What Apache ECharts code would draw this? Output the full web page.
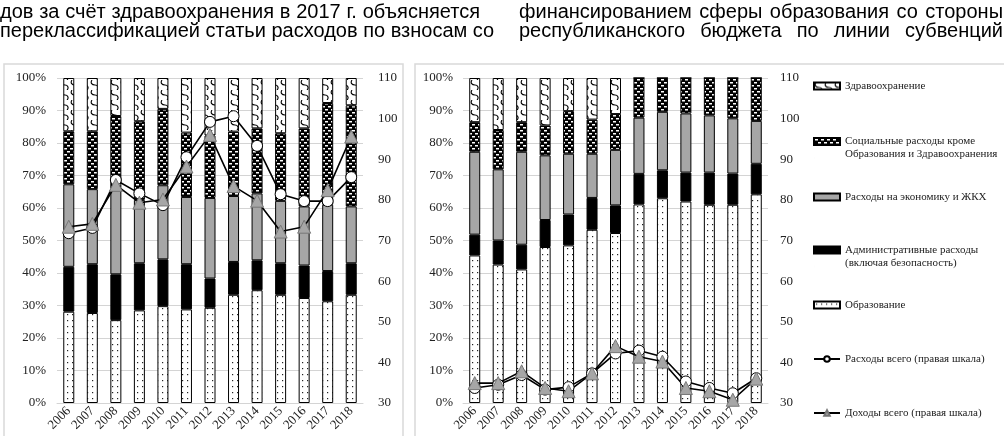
<!DOCTYPE html>
<html><head><meta charset="utf-8">
<script src="https://cdn.jsdelivr.net/npm/echarts@6/dist/echarts.min.js"></script>
<style>
html,body{margin:0;padding:0;background:#fff;width:1004px;height:436px;overflow:hidden;}
#c{position:absolute;left:0;top:0;width:1004px;height:436px;}
.t{position:absolute;font-family:"Liberation Sans",Arial,sans-serif;font-size:20px;line-height:19px;color:#000;text-align:justify;text-align-last:justify;white-space:nowrap;z-index:2;}
</style></head>
<body>
<div id="c"></div>
<div class="t" style="left:0;top:2px;width:480px;">дов за счёт здравоохранения в 2017 г. объясняется</div>
<div class="t" style="left:0;top:21px;width:478px;">переклассификацией статьи расходов по взносам со</div>
<div class="t" style="left:519px;top:2px;width:484px;">финансированием сферы образования со стороны</div>
<div class="t" style="left:519px;top:21px;width:484px;">республиканского бюджета по линии субвенций</div>
<script>
const years = ['2006','2007','2008','2009','2010','2011','2012','2013','2014','2015','2016','2017','2018'];

// Left panel (shares, %)
const leftEdu    = [28.1, 27.7, 25.5, 28.5, 29.8, 28.8, 29.3, 33.3, 34.7, 33.3, 32.3, 31.3, 33.3];
const leftAdm    = [13.8, 15.0, 14.1, 14.5, 14.4, 13.9, 9.0, 10.1, 9.2, 9.7, 10.0, 9.3, 9.7];
const leftEcon   = [25.4, 23.1, 26.4, 19.5, 22.8, 20.7, 24.8, 20.3, 20.6, 19.2, 18.2, 20.4, 17.5];
const leftSoc    = [16.3, 17.8, 22.3, 24.2, 23.5, 19.8, 19.2, 19.8, 20.0, 20.8, 24.0, 31.3, 31.1];
const leftHealth = [16.4, 16.4, 11.7, 13.3, 9.5, 16.8, 17.7, 16.5, 15.5, 17.0, 15.5, 7.7, 8.4];
const leftExp    = [71.8, 73.1, 84.9, 81.6, 78.7, 90.5, 99.2, 100.6, 93.3, 81.4, 79.7, 79.7, 85.6];
const leftRev    = [73.4, 74.1, 83.7, 79.3, 80.1, 88.2, 96.0, 83.4, 79.8, 72.2, 73.4, 82.4, 95.6];

// Right panel (shares, %)
const rightEdu    = [45.4, 42.6, 41.1, 48.0, 48.5, 53.3, 52.3, 61.1, 63.0, 62.0, 61.0, 61.0, 64.2];
const rightAdm    = [6.4, 7.4, 7.6, 8.3, 9.5, 9.8, 8.5, 9.4, 8.6, 8.9, 9.9, 9.6, 9.4];
const rightEcon   = [25.5, 21.9, 28.6, 19.9, 18.7, 13.6, 17.1, 17.3, 18.0, 18.2, 17.6, 17.0, 13.2];
const rightSoc    = [9.1, 12.1, 9.1, 9.2, 13.1, 10.5, 11.0, 12.2, 10.4, 10.9, 11.5, 12.4, 13.2];
const rightHealth = [13.6, 16.0, 13.6, 14.6, 10.2, 12.8, 11.1, 0, 0, 0, 0, 0, 0];
const rightExp    = [33.7, 34.5, 36.9, 33.3, 33.9, 37.3, 42.2, 42.9, 41.4, 35.3, 33.7, 32.4, 36.1];
const rightRev    = [34.9, 34.9, 37.8, 33.7, 32.9, 37.3, 44.0, 41.4, 40.2, 33.7, 32.9, 30.8, 36.0];

const N_HEALTH = 'Здравоохранение';
const N_SOC = 'Социальные расходы кроме Образования и Здравоохранения';
const N_ECON = 'Расходы на экономику и ЖКХ';
const N_ADM = 'Административные расходы (включая безопасность)';
const N_EDU = 'Образование';
const N_EXP = 'Расходы всего (правая шкала)';
const N_REV = 'Доходы всего (правая шкала)';
const legendText = {};
legendText[N_HEALTH] = 'Здравоохранение';
legendText[N_SOC] = 'Социальные расходы кроме\nОбразования и Здравоохранения';
legendText[N_ECON] = 'Расходы на экономику и ЖКХ';
legendText[N_ADM] = 'Административные расходы\n(включая безопасность)';
legendText[N_EDU] = 'Образование';
legendText[N_EXP] = 'Расходы всего (правая шкала)';
legendText[N_REV] = 'Доходы всего (правая шкала)';

function pat(w, h, draw) {
  const c = document.createElement('canvas');
  c.width = w; c.height = h;
  draw(c.getContext('2d'));
  return { image: c, repeat: 'repeat' };
}
const healthPat = pat(10, 10, g => {
  g.fillStyle = '#fff'; g.fillRect(0, 0, 10, 10);
  g.strokeStyle = '#000'; g.lineWidth = 1.1;
  g.beginPath(); g.moveTo(2, 0); g.bezierCurveTo(0, 3, 2, 5, 5, 5); g.bezierCurveTo(8, 5, 9, 8, 7, 10); g.stroke();
});
const socPat = pat(6, 6, g => {
  g.fillStyle = '#000'; g.fillRect(0, 0, 6, 6);
  g.fillStyle = '#fff';
  g.fillRect(1, 1, 3, 1.5); g.fillRect(4, 4, 2, 1.5); g.fillRect(0, 4, 1, 1.5);
});
const eduPat = pat(5, 6, g => {
  g.fillStyle = '#fff'; g.fillRect(0, 0, 5, 6);
  g.fillStyle = '#222'; g.fillRect(2, 2, 1.2, 1.2);
});

const serif = '"Liberation Serif","Times New Roman",serif';
const gridColor = '#d4d4d4';

function xAx(gi) {
  return {
    type: 'category', gridIndex: gi, data: years,
    axisLine: { show: true, lineStyle: { color: gridColor } },
    axisTick: { show: false },
    axisLabel: { interval: 0, rotate: 45, fontFamily: serif, fontSize: 13, color: '#222', margin: 6 }
  };
}
function yPct(gi) {
  return {
    type: 'value', gridIndex: gi, min: 0, max: 100, interval: 10, position: 'left',
    axisLine: { show: false }, axisTick: { show: false },
    splitLine: { show: true, lineStyle: { color: gridColor, width: 1 } },
    axisLabel: { formatter: '{value}%', fontFamily: serif, fontSize: 13, color: '#222', margin: gi === 0 ? 11 : 10 }
  };
}
function yAbs(gi) {
  return {
    type: 'value', gridIndex: gi, min: 30, max: 110, interval: 10, position: 'right',
    axisLine: { show: false }, axisTick: { show: false }, splitLine: { show: false },
    axisLabel: { fontFamily: serif, fontSize: 13, color: '#222', margin: gi === 0 ? 15 : 12 }
  };
}

function barSeries(name, data, color, xi, yi, stack) {
  return {
    name, type: 'bar', data, stack, xAxisIndex: xi, yAxisIndex: yi,
    barWidth: 11,
    itemStyle: { color, borderColor: '#000', borderWidth: 1 },
    emphasis: { disabled: true }, animation: false
  };
}
function lineSeries(name, data, xi, yi, kind) {
  const isC = kind === 'circle';
  return {
    name, type: 'line', data, xAxisIndex: xi, yAxisIndex: yi, z: 5,
    symbol: isC ? 'circle' : 'triangle', symbolSize: isC ? 11 : 13,
    showAllSymbol: true,
    lineStyle: { color: '#000', width: 1.6 },
    itemStyle: isC ? { color: '#fff', borderColor: '#000', borderWidth: 1 } : { color: '#a6a6a6', borderColor: '#777', borderWidth: 1 },
    emphasis: { disabled: true }, animation: false
  };
}

const series = [];
[[0, 0, 1, 'L', leftEdu, leftAdm, leftEcon, leftSoc, leftHealth, leftExp, leftRev],
 [1, 2, 3, 'R', rightEdu, rightAdm, rightEcon, rightSoc, rightHealth, rightExp, rightRev]].forEach(p => {
  const [xi, yl, yr, st, edu, adm, econ, soc, health, exp, rev] = p;
  series.push(barSeries(N_EDU, edu, eduPat, xi, yl, st));
  series.push(barSeries(N_ADM, adm, '#000', xi, yl, st));
  series.push(barSeries(N_ECON, econ, '#a6a6a6', xi, yl, st));
  series.push(barSeries(N_SOC, soc, socPat, xi, yl, st));
  series.push(barSeries(N_HEALTH, health, healthPat, xi, yl, st));
  series.push(lineSeries(N_EXP, exp, xi, yr, 'circle'));
  series.push(lineSeries(N_REV, rev, xi, yr, 'triangle'));
});

const rectIcon = 'path://M0,0L26,0L26,7L0,7Z';
const rectIcon2 = 'path://M0,0L26,0L26,7L0,7ZM0,20L0.01,20';
const legendItems = [
  { name: N_HEALTH, top: 79.5, icon: rectIcon, h: 7 },
  { name: N_SOC, top: 135, icon: rectIcon2, h: 20 },
  { name: N_ECON, top: 190.5, icon: rectIcon, h: 7 },
  { name: N_ADM, top: 243.5, icon: rectIcon2, h: 20 },
  { name: N_EDU, top: 298.5, icon: rectIcon, h: 7 },
  { name: N_EXP, top: 352.5, icon: null, h: 7 },
  { name: N_REV, top: 406.5, icon: null, h: 7 }
];
const legends = legendItems.map(it => ({
  left: 813, top: it.top, orient: 'vertical', padding: 0,
  itemWidth: 26, itemHeight: it.h, selectedMode: false,
  data: [it.icon ? { name: it.name, icon: it.icon } : { name: it.name }],
  formatter: n => legendText[n],
  textStyle: { fontFamily: serif, fontSize: 11, lineHeight: 13, color: '#222' }
}));

const chart = echarts.init(document.getElementById('c'), null, { renderer: 'canvas' });
chart.setOption({
  animation: false,
  backgroundColor: '#fff',
  graphic: [
    { type: 'rect', shape: { x: 4, y: 64, width: 399, height: 390 }, style: { fill: 'none', stroke: '#d9d9d9', lineWidth: 1.5 }, silent: true, z: -1 },
    { type: 'rect', shape: { x: 415, y: 64, width: 600, height: 390 }, style: { fill: 'none', stroke: '#d9d9d9', lineWidth: 1.5 }, silent: true, z: -1 }
  ],
  grid: [
    { left: 57, right: 1004 - 363, top: 78, bottom: 436 - 403, containLabel: false, outerBoundsMode: 'none' },
    { left: 463, right: 1004 - 768, top: 78, bottom: 436 - 403, containLabel: false, outerBoundsMode: 'none' }
  ],
  xAxis: [xAx(0), xAx(1)],
  yAxis: [yPct(0), yAbs(0), yPct(1), yAbs(1)],
  legend: legends,
  series
});
</script>
</body></html>
